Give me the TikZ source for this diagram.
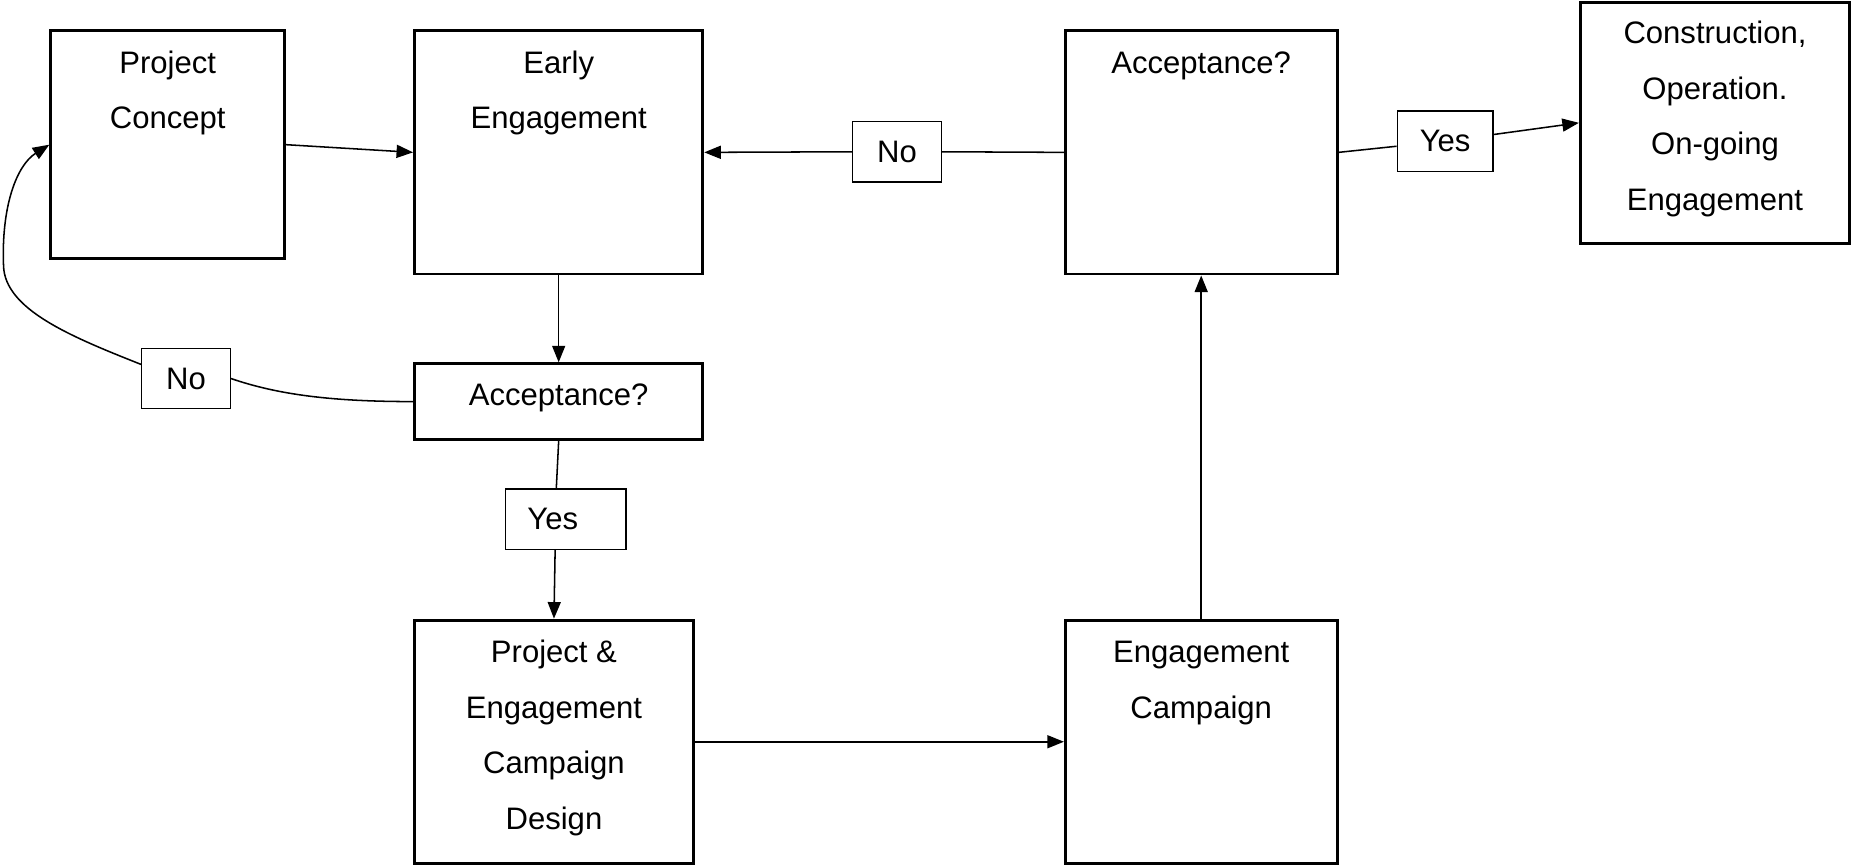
\documentclass[tikz,border=0pt]{standalone}
\usepackage{fontspec}
\setmainfont{Liberation Sans}
\usetikzlibrary{arrows.meta}
\begin{document}
\begin{tikzpicture}[x=0.5pt,y=-0.5pt,
  stagebox/.style={draw,line width=1.25pt,inner sep=0pt},
  stagetext/.style={anchor=north,inner sep=0pt,align=center,
    font=\fontsize{13.15}{23.5}\selectfont},
  tagbox/.style={draw,line width=0.6pt,inner sep=0pt,
    minimum width=#1,minimum height=25.5pt,
    font=\fontsize{13.15}{15}\selectfont},
  link/.style={line width=0.65pt},
  flow/.style={link,-{Triangle[length=7pt,width=5.5pt]}}]
\useasboundingbox (0,0) rectangle (1568,733);

% process boxes
\node[stagebox,minimum width=99pt,minimum height=96.5pt] (concept) at (142,122.5) {};
\node[stagebox,minimum width=122pt,minimum height=103pt] (early) at (473,129) {};
\node[stagebox,minimum width=122pt,minimum height=32pt] (acc1) at (473,340) {};
\node[stagebox,minimum width=115pt,minimum height=103pt] (acc2) at (1017,129) {};
\node[stagebox,minimum width=114pt,minimum height=102pt] (build) at (1452,104) {};
\node[stagebox,minimum width=118pt,minimum height=103pt] (design) at (469,628) {};
\node[stagebox,minimum width=115pt,minimum height=103pt] (campaign) at (1017,628) {};

% box captions
\node[stagetext] (concept-t) at ([yshift=-2pt]concept.north) {\strut Project\\Concept};
\node[stagetext] (early-t) at ([yshift=-2pt]early.north) {\strut Early\\Engagement};
\node[stagetext] (acc1-t) at ([yshift=-1.5pt]acc1.north) {\strut Acceptance?};
\node[stagetext] (acc2-t) at ([yshift=-2pt]acc2.north) {\strut Acceptance?};
\node[stagetext] (build-t) at ([yshift=-1.5pt]build.north) {\strut Construction,\\Operation.\\On-going\\Engagement};
\node[stagetext] (design-t) at ([yshift=-2pt]design.north) {\strut Project \&\\Engagement\\Campaign\\Design};
\node[stagetext] (campaign-t) at ([yshift=-2pt]campaign.north) {\strut Engagement\\Campaign};

% decision tags
\node[tagbox=37.5pt] (noTop) at (759.5,128.5) {No};
\node[tagbox=40.5pt] (yesTop) at (1223.5,119.5) {Yes};
\node[tagbox=37.5pt] (noLeft) at (157.5,320.5) {No};
\node[tagbox=51pt] (yesLow) at (479,439.5) {Yes\rule{11pt}{0pt}};

% connectors
\draw[flow] (concept.east) -- (early.west);
\draw[flow] (early.south) -- (acc1.north);
\draw[link] (acc1.south) -- ([xshift=-4pt]yesLow.north);
\draw[flow] ([xshift=-4.5pt]yesLow.south) -- (design.north);
\draw[flow] (design.east) -- (campaign.west);
\draw[flow] (campaign.north) -- (acc2.south);
\draw[link] (acc2.west) -- (noTop.east);
\draw[flow] (noTop.west) -- (early.east);
\draw[link] (acc2.east) -- (yesTop);
\draw[flow] (yesTop) -- (build.west);
\draw[link] (acc1.west) .. controls (280,340) and (235,334) .. (noLeft.east);
\draw[flow] ([yshift=6pt]noLeft.west) .. controls (60,285) and (4,262) .. (3,225)
  .. controls (1,175) and (14,140) .. (concept.west);
\end{tikzpicture}
\end{document}
